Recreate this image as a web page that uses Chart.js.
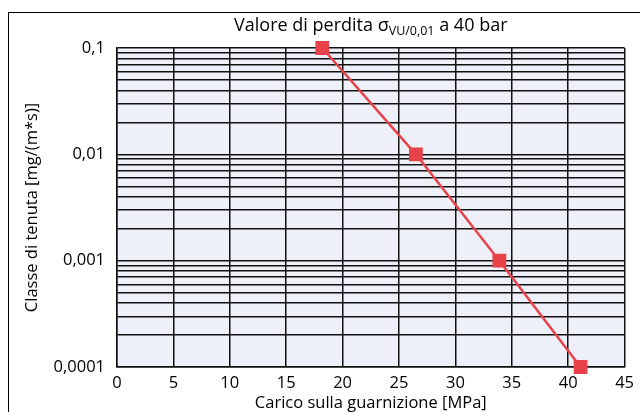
<!DOCTYPE html>
<html>
<head>
<meta charset="utf-8">
<script src="https://cdn.jsdelivr.net/npm/chart.js@4"></script>
<style>
  html, body { margin: 0; padding: 0; background: #fff; }
  #wrap { width: 640px; height: 412px; }
</style>
</head>
<body>
<div id="wrap"><canvas id="chart"></canvas></div>
<script>
// data
const carico = [18.2, 26.5, 33.9, 41.1];        // MPa
const classe = [0.1, 0.01, 0.001, 0.0001];      // mg/(m*s)
const xTicks = [0, 5, 10, 15, 20, 25, 30, 35, 40, 45];
const yDecades = [0.0001, 0.001, 0.01, 0.1];
const yLabels = ["0,0001", "0,001", "0,01", "0,1"];

const FONT = "'Open Sans', sans-serif";

// title with subscript + outer frame + plot background
const decor = {
    id: "decor",
    beforeDraw(chart) {
        const ctx = chart.ctx;
        const a = chart.chartArea;
        ctx.save();
        ctx.fillStyle = "#edf0f8";
        ctx.fillRect(a.left, a.top, a.right - a.left, a.bottom - a.top);
        ctx.restore();
    },
    afterDraw(chart) {
        const ctx = chart.ctx;
        const a = chart.chartArea;
        ctx.save();
        ctx.strokeStyle = "#000";
        ctx.lineWidth = 1;
        ctx.strokeRect(8.5, 12.5, 700, 500);

        const parts = [
            { t: "Valore di perdita σ", f: "18px " + FONT, dy: 0 },
            { t: "VU/0,01", f: "12.5px " + FONT, dy: 4 },
            { t: " a 40 bar", f: "18px " + FONT, dy: 0 }
        ];
        let w = 0;
        parts.forEach(p => { ctx.font = p.f; w += ctx.measureText(p.t).width; });
        let x = (a.left + a.right) / 2 - w / 2;
        ctx.fillStyle = "#000";
        ctx.textBaseline = "alphabetic";
        parts.forEach(p => {
            ctx.font = p.f;
            ctx.fillText(p.t, x, 31 + p.dy);
            x += ctx.measureText(p.t).width;
        });
        ctx.restore();
    }
};

new Chart(document.getElementById("chart"), {
    type: "line",
    data: {
        datasets: [{
            data: carico.map((x, i) => ({ x: x, y: classe[i] })),
            borderColor: "#e8434a",
            backgroundColor: "#e8434a",
            borderWidth: 2.5,
            pointStyle: "rect",
            pointRadius: 8,
            pointHoverRadius: 8,
            tension: 0,
            clip: false
        }]
    },
    options: {
        responsive: true,
        maintainAspectRatio: false,
        animation: false,
        layout: { padding: { top: 48, right: 13, left: 0, bottom: 0 } },
        plugins: { legend: { display: false }, tooltip: { enabled: false } },
        scales: {
            x: {
                type: "linear",
                min: 0, max: 45,
                afterBuildTicks: s => { s.ticks = xTicks.map(v => ({ value: v })); },
                afterFit: s => { s.height = 45; },
                grid: { color: "#111", lineWidth: 1.5, drawTicks: false },
                border: { color: "#111", width: 1.5 },
                ticks: { color: "#000", font: { family: FONT, size: 16.5 }, padding: 6, maxRotation: 0 },
                title: { display: true, text: "Carico sulla guarnizione [MPa]", color: "#000",
                         font: { family: FONT, size: 16.5 }, padding: { top: 0, bottom: -1 } }
            },
            y: {
                type: "logarithmic",
                min: 0.0001, max: 0.1,
                afterBuildTicks: s => {
                    const t = [];
                    yDecades.forEach((d, i) => {
                        if (i === yDecades.length - 1) { t.push({ value: d }); return; }
                        for (let k = 1; k < 10; k++) t.push({ value: d * k });
                    });
                    s.ticks = t;
                },
                afterFit: s => { s.width = 117; },
                grid: { color: "#111", lineWidth: 1.5, drawTicks: false },
                border: { color: "#111", width: 1.5 },
                ticks: {
                    autoSkip: false,
                    color: "#000",
                    font: { family: FONT, size: 16.5 },
                    padding: 12,
                    callback: v => {
                        const i = yDecades.findIndex(d => Math.abs(d - v) / d < 1e-6);
                        return i >= 0 ? yLabels[i] : "";
                    }
                },
                title: { display: true, text: "Classe di tenuta [mg/(m*s)]", color: "#000",
                         font: { family: FONT, size: 16.5 }, padding: { top: 22, bottom: 0 } }
            }
        }
    },
    plugins: [decor]
});
</script>
</body>
</html>
